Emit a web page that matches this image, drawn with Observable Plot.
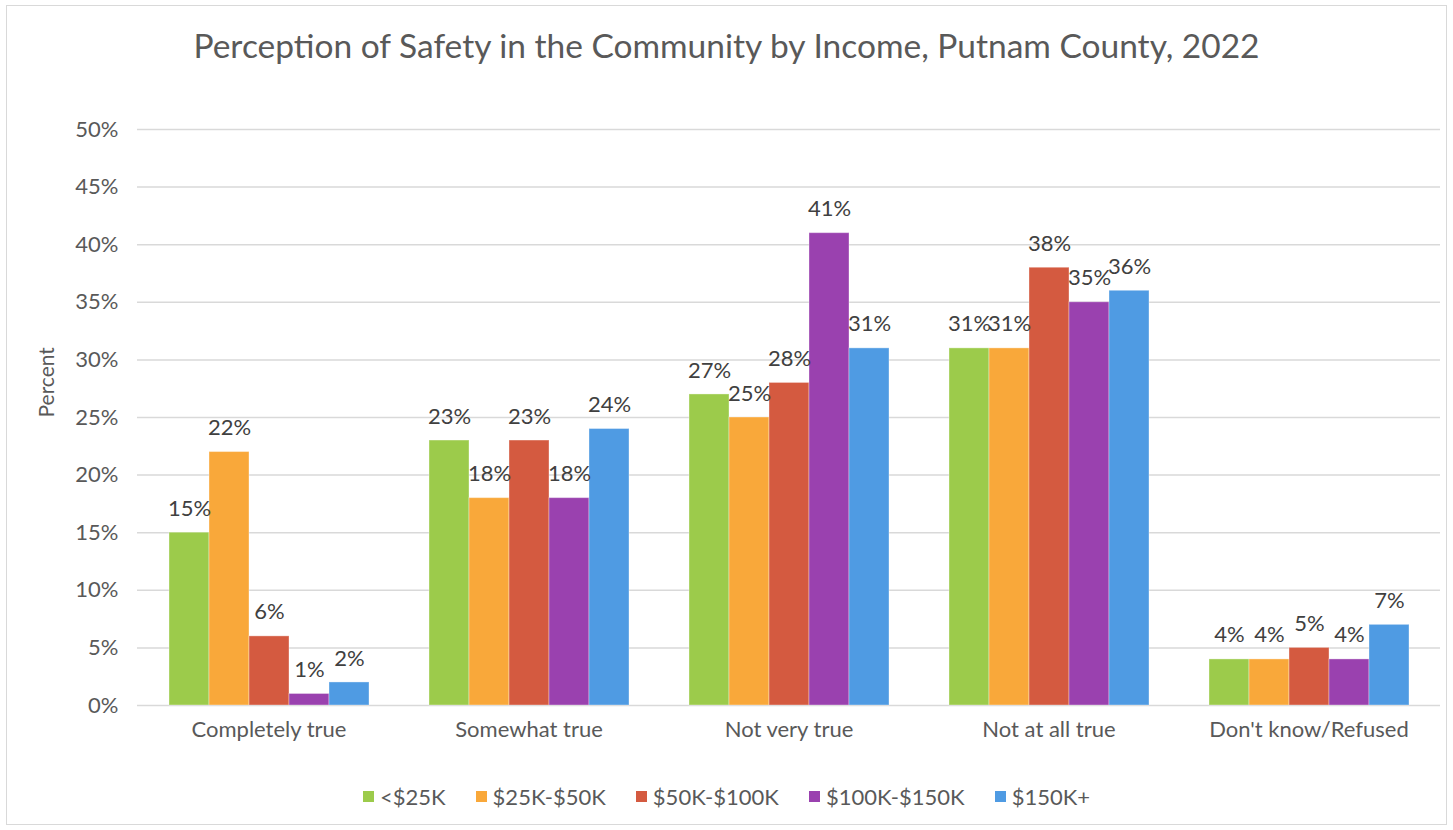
<!DOCTYPE html>
<html>
<head>
<meta charset="utf-8">
<script src="https://cdn.jsdelivr.net/npm/d3@7"></script>
<script src="https://cdn.jsdelivr.net/npm/@observablehq/plot@0.6"></script>
<style>
  html, body { margin: 0; padding: 0; background: #fff; }
  body { width: 1453px; height: 830px; position: relative; overflow: hidden; font-family: Lato, "Open Sans", sans-serif; color: #595959; }
  #frame { position: absolute; left: 6px; top: 5px; width: 1441px; height: 820px; border: 1px solid #d9d9d9; box-sizing: border-box; }
  #title { position: absolute; left: 0; width: 1453px; top: 25px; text-align: center; font-size: 33.5px; color: #595959; white-space: nowrap; }
  .layer { position: absolute; left: 0; top: 0; }
  #legend { position: absolute; left: 0; width: 1453px; top: 783px; display: flex; justify-content: center; font-size: 22px; color: #595959; }
  .item { display: flex; align-items: center; margin: 0 15px; }
  .sw { width: 11px; height: 11px; margin-right: 6px; }
</style>
</head>
<body>
<div id="frame"></div>
<div id="title">Perception of Safety in the Community by Income, Putnam County, 2022</div>
<div id="grid" class="layer"></div>
<div id="bars" class="layer"></div>
<div id="legend"></div>
<script>
const categories = ["Completely true", "Somewhat true", "Not very true", "Not at all true", "Don't know/Refused"];
const incomes = ["<$25K", "$25K-$50K", "$50K-$100K", "$100K-$150K", "$150K+"];
const colors = ["#9CCB4B", "#F9A83A", "#D45A40", "#9A41AF", "#4F9BE3"];
const under25K = [15, 23, 27, 31, 4];
const from25to50K = [22, 18, 25, 31, 4];
const from50to100K = [6, 23, 28, 38, 5];
const from100to150K = [1, 18, 41, 35, 4];
const over150K = [2, 24, 31, 36, 7];
const yTicks = [0, 5, 10, 15, 20, 25, 30, 35, 40, 45, 50];

const series = [under25K, from25to50K, from50to100K, from100to150K, over150K];
const data = [];
categories.forEach((c, i) => {
  incomes.forEach((inc, j) => {
    data.push({category: c, income: inc, value: series[j][i]});
  });
});

const W = 1453, H = 830;
const margins = {marginTop: 129, marginBottom: 125, marginLeft: 137, marginRight: 13};
const font = {fontFamily: "Lato, 'Open Sans', sans-serif", fontSize: "22px", color: "#595959", background: "transparent"};

const grid = Plot.plot({
  width: W, height: H, ...margins,
  style: font,
  y: {domain: [0, 50], ticks: yTicks, tickFormat: d => d + "%", label: null},
  marks: [
    Plot.ruleY(yTicks, {stroke: "#d9d9d9", strokeWidth: 1.5}),
    Plot.axisY({ticks: yTicks, tickFormat: d => d + "%", tickSize: 0, tickPadding: 19, label: null, fontSize: 22, fill: "#595959"}),
    Plot.text(["Percent"], {frameAnchor: "left", dx: -90, rotate: -90, fontSize: 21, fill: "#595959"})
  ]
});
document.getElementById("grid").appendChild(grid);

const bars = Plot.plot({
  width: W, height: H, ...margins,
  style: font,
  y: {domain: [0, 50], axis: null},
  fx: {domain: categories, paddingInner: 0.227, paddingOuter: 0.1135, label: null, tickSize: 0, tickPadding: 16, axis: "bottom", fontSize: 21.5},
  x: {domain: incomes, padding: 0, axis: null},
  color: {domain: incomes, range: colors},
  marks: [
    Plot.barY(data, {fx: "category", x: "income", y: "value", fill: "income", stroke: "white", strokeOpacity: 0.35, strokeWidth: 1}),
    Plot.text(data, {fx: "category", x: "income", y: "value", text: d => d.value + "%", dy: -24, fontSize: 22, fill: "#404040"})
  ]
});
document.getElementById("bars").appendChild(bars);

const legend = document.getElementById("legend");
incomes.forEach((inc, j) => {
  const item = document.createElement("div");
  item.className = "item";
  const sw = document.createElement("div");
  sw.className = "sw";
  sw.style.background = colors[j];
  const t = document.createElement("span");
  t.textContent = inc;
  item.appendChild(sw);
  item.appendChild(t);
  legend.appendChild(item);
});
</script>
</body>
</html>
